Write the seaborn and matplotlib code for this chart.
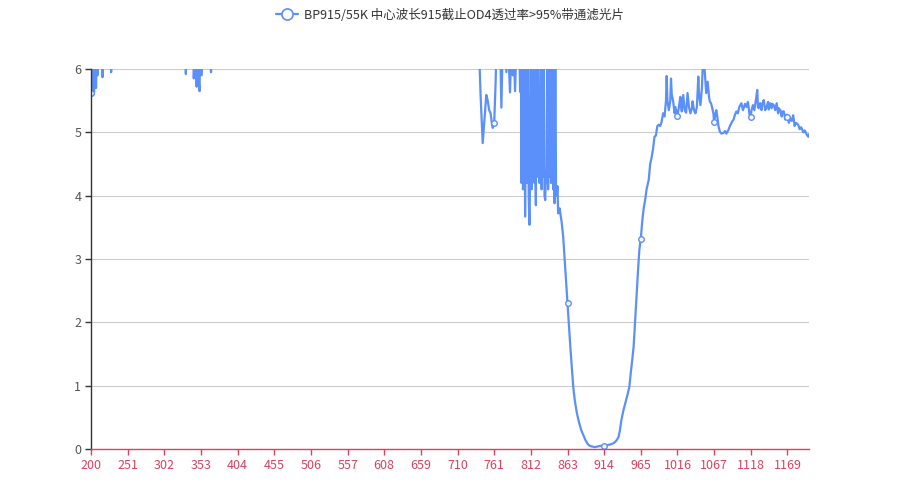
"""
BP915/55K band-pass filter: optical density vs wavelength
"""
import matplotlib
matplotlib.use('Agg')
import matplotlib.pyplot as plt
import numpy as np
import seaborn as sns

sns.set_style('white')
plt.rcParams['font.family'] = ['Noto Sans CJK SC', 'DejaVu Sans']

LINE_COLOR = '#5B8FF9'
AXIS_RED = '#D9435F'
TITLE = 'BP915/55K 中心波长915截止OD4透过率>95%带通滤光片'
OFF = 6.6  # readings above the plotted range (OD > 6)

# UV / visible part, almost all beyond OD 6
uv_wl = [200, 201, 202, 203, 204, 205, 206, 207, 208, 209, 210, 215, 216, 217,
         227, 228, 229, 331, 332, 333, 342, 343, 345, 347, 348, 350, 351, 352,
         354, 356, 366, 367, 368, 500, 735]
uv_od = [5.62, 6.3, 5.58, 6.2, 5.6, 5.75, 6.4, 5.7, 6.3, 5.9, OFF, OFF, 5.87, OFF,
         OFF, 5.95, OFF, OFF, 5.92, OFF, OFF, 5.85, 6.4, 5.72, 6.3, 5.8, 5.65, 6.4,
         5.9, 6.5, OFF, 5.95, OFF, OFF, OFF]

# blocking edge 740-798
edge_wl = [740, 742, 745, 748, 750, 752, 754, 756, 758, 759, 761, 763, 764, 766,
           768, 769, 771, 773, 776, 778, 780, 783, 785, 787, 788, 790, 792, 794,
           796, 797, 798]
edge_od = [6.3, 5.6, 4.83, 5.3, 5.59, 5.5, 5.35, 5.3, 5.12, 5.07, 5.15, 5.8, 6.3, OFF,
           6.2, 6.5, 5.39, 6.5, 6.4, 5.95, 6.5, 5.63, 6.4, 5.9, 6.4, 5.65, 6.4, 6.1,
           6.4, 5.64, 6.5]

# noisy region 799-855
noisy_wl = list(range(799, 851)) + [852, 855]
noisy_od = [4.2, OFF, 4.1, 4.3, OFF, 3.67, OFF, 4.4, 4.2, OFF, 4.0, 3.54, 4.3,
            OFF, 4.1, OFF, 4.4, OFF, 4.2, 4.6, 3.85, OFF, 4.3, OFF, 4.7, 4.2,
            4.5, OFF, 4.1, OFF, 4.3, OFF, 4.0, 3.93, 4.4, 4.2, OFF, 4.1, OFF,
            4.3, OFF, 4.2, 4.35, OFF, 4.1, OFF, 3.88, OFF, 4.15, 4.0, 4.15, 3.72,
            3.8, 3.57]

# pass band 857-998
band_wl = [857, 859, 861, 863, 865, 867, 869, 871, 873, 876, 879, 882, 885, 888,
           891, 894, 897, 901, 905, 909, 914, 918, 922, 927, 930, 932, 934, 936,
           938, 941, 944, 947, 949, 951, 953, 955, 957, 959, 961, 963, 965, 967,
           969, 971, 973, 976, 978, 980, 982, 984, 986, 988, 990, 992, 994, 996,
           998]
band_od = [3.35, 3.0, 2.65, 2.30, 1.95, 1.6, 1.28, 0.98, 0.78, 0.57, 0.42, 0.3, 0.22,
           0.14, 0.08, 0.05, 0.04, 0.03, 0.04, 0.05, 0.05, 0.06, 0.07, 0.09, 0.12,
           0.15, 0.19, 0.3, 0.46, 0.62, 0.75, 0.88, 0.98, 1.2, 1.4, 1.62, 2.0, 2.4,
           2.8, 3.15, 3.32, 3.6, 3.8, 3.93, 4.1, 4.25, 4.5, 4.6, 4.74, 4.93, 4.95,
           5.1, 5.12, 5.1, 5.17, 5.3, 5.25]

# IR blocking 1000-1199
ir_wl = [1000, 1001, 1002, 1004, 1006, 1007, 1008, 1010, 1012, 1013, 1015, 1016,
         1018, 1020, 1021, 1022, 1024, 1026, 1028, 1030, 1032, 1034, 1036, 1037,
         1039, 1041, 1043, 1045, 1046, 1048, 1050, 1051, 1052, 1053, 1054, 1056,
         1058, 1060, 1061, 1063, 1064, 1066, 1067, 1069, 1070, 1072, 1073, 1075,
         1077, 1080, 1082, 1084, 1087, 1089, 1092, 1094, 1096, 1098, 1100, 1102,
         1105, 1107, 1108, 1110, 1112, 1114, 1116, 1117, 1118, 1119, 1121, 1123,
         1125, 1127, 1128, 1129, 1131, 1133, 1134, 1136, 1138, 1140, 1142, 1143,
         1145, 1147, 1148, 1150, 1152, 1154, 1156, 1157, 1159, 1161, 1162, 1164,
         1166, 1168, 1169, 1171, 1173, 1175, 1177, 1179, 1181, 1184, 1186, 1188,
         1189, 1191, 1193, 1194, 1196, 1198, 1199]
ir_od = [5.5, 5.89, 5.5, 5.35, 5.5, 5.85, 5.6, 5.49, 5.3, 5.4, 5.31, 5.26,
         5.4, 5.56, 5.4, 5.33, 5.59, 5.35, 5.31, 5.62, 5.4, 5.3, 5.38, 5.49,
         5.35, 5.3, 5.4, 5.88, 5.6, 5.43, 5.7, 5.98, 6.3, 6.1, 5.95, 5.62,
         5.8, 5.55, 5.49, 5.45, 5.4, 5.3, 5.16, 5.3, 5.35, 5.2, 5.1, 5.01,
         4.98, 4.99, 5.02, 4.98, 5.04, 5.1, 5.17, 5.2, 5.28, 5.33, 5.3, 5.4,
         5.46, 5.35, 5.38, 5.45, 5.4, 5.48, 5.3, 5.25, 5.24, 5.35, 5.43, 5.35,
         5.5, 5.67, 5.4, 5.38, 5.46, 5.35, 5.45, 5.51, 5.35, 5.4, 5.48, 5.36,
         5.46, 5.38, 5.45, 5.43, 5.35, 5.46, 5.3, 5.38, 5.35, 5.25, 5.33, 5.33,
         5.2, 5.28, 5.25, 5.15, 5.22, 5.18, 5.27, 5.1, 5.15, 5.12, 5.05, 5.08,
         5.06, 5.0, 5.03, 5.01, 4.96, 4.93, 4.97]

x_ticks = list(range(200, 1200, 51))

wl = np.array(uv_wl + edge_wl + noisy_wl + band_wl + ir_wl)
od = np.array(uv_od + edge_od + noisy_od + band_od + ir_od)

fig, ax = plt.subplots(figsize=(9, 5), dpi=100)
fig.subplots_adjust(left=91 / 900, right=809 / 900, bottom=1 - 449 / 500, top=1 - 69 / 500)

sns.lineplot(x=wl, y=od, ax=ax, color=LINE_COLOR, linewidth=1.6, sort=False,
             estimator=None)

# hollow symbols every 51 nm, where the curve is inside the range
sym = np.isin(wl, x_ticks) & (od <= 6)
ax.plot(wl[sym], od[sym], linestyle='none', marker='o', markersize=4,
        markerfacecolor='white', markeredgecolor=LINE_COLOR, markeredgewidth=1)

ax.set_xlim(200, 1199)
ax.set_ylim(0, 6)
ax.set_xticks(x_ticks)
ax.set_yticks(range(0, 7))
ax.yaxis.grid(True, color='#cccccc', linewidth=0.8)
ax.set_axisbelow(True)

for side in ['top', 'right']:
    ax.spines[side].set_visible(False)
ax.spines['left'].set_color('#333333')
ax.spines['left'].set_linewidth(1)
ax.spines['bottom'].set_color(AXIS_RED)
ax.spines['bottom'].set_linewidth(1)
ax.tick_params(axis='x', colors=AXIS_RED, labelsize=9, length=4, width=1, direction='out',
               bottom=True, pad=3)
ax.tick_params(axis='y', colors='#333333', labelcolor='#555555', labelsize=9, length=4,
               width=1, direction='out', left=True, pad=3)
ax.set_xlabel('')
ax.set_ylabel('')

handle = plt.Line2D([], [], color=LINE_COLOR, linewidth=1.6, marker='o', markersize=8,
                    markerfacecolor='white', markeredgecolor=LINE_COLOR, markeredgewidth=1.2)
fig.legend([handle], [TITLE], loc='upper center', bbox_to_anchor=(0.5, 1.005), frameon=False,
           fontsize=9, handlelength=1.8, handletextpad=0.5, labelcolor='#333333')

plt.savefig('out.png', dpi=100)
plt.close()
